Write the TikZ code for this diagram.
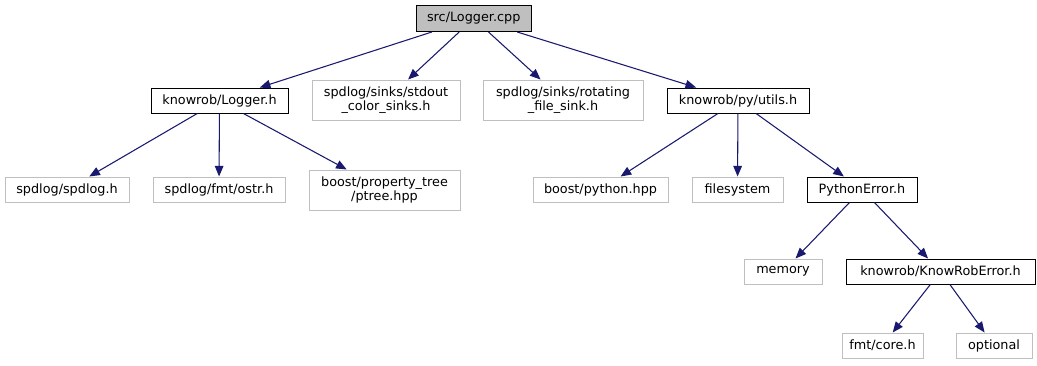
\documentclass[tikz,border=0pt]{standalone}
\usepackage{fontspec}
\setmainfont{DejaVu Sans}
\usetikzlibrary{arrows.meta}
\definecolor{edgeblue}{HTML}{191970}
\definecolor{undoc}{HTML}{BFBFBF}
\definecolor{rootfill}{HTML}{BFBFBF}
\tikzset{
  px/.style={x=0.75pt,y=-0.75pt},
  file/.style 2 args={draw, line width=0.75pt, inner sep=0pt, align=center,
    minimum width=#1*0.75pt, minimum height=#2*0.75pt,
    font=\fontsize{9.6}{10.5}\selectfont},
  docfile/.style 2 args={file={#1}{#2}, draw=black},
  extfile/.style 2 args={file={#1}{#2}, draw=undoc},
  rootfile/.style 2 args={file={#1}{#2}, draw=black, fill=rootfill},
  dep/.style={draw=edgeblue, line width=0.8pt,
    -{Triangle[length=8pt,width=6.5pt]}, edgeblue}
}
\begin{document}
\begin{tikzpicture}[px]
\useasboundingbox (0,0) rectangle (1037,365);
% level 0
\node[rootfile={115}{26}] (root) at (473.7,18.5) {src/Logger.cpp};
% level 1
\node[docfile={137}{25}] (logger) at (219.5,100.5) {knowrob/Logger.h};
\node[extfile={148}{40}] (stdout) at (386,100) {spdlog/sinks/stdout\\\_color\_sinks.h};
\node[extfile={160}{40}] (rotating) at (563,100) {spdlog/sinks/rotating\\\_file\_sink.h};
\node[docfile={142}{25}] (utils) at (738,100.5) {knowrob/py/utils.h};
% level 2
\node[extfile={124}{25}] (spdlog) at (67,189.5) {spdlog/spdlog.h};
\node[extfile={132}{25}] (ostr) at (219,189.5) {spdlog/fmt/ostr.h};
\node[extfile={151}{40}] (ptree) at (384.5,190) {boost/property\_tree\\/ptree.hpp};
\node[extfile={135}{25}] (python) at (600.5,189.5) {boost/python.hpp};
\node[extfile={91}{25}] (fs) at (737.5,189.5) {filesystem};
\node[docfile={110}{25}] (pyerr) at (862,189.5) {PythonError.h};
% level 3
\node[extfile={78}{25}] (memory) at (783,271.5) {memory};
\node[docfile={189}{25}] (kre) at (940.5,271.5) {knowrob/KnowRobError.h};
% level 4
\node[extfile={81}{25}] (fmtcore) at (882.5,345.5) {fmt/core.h};
\node[extfile={76}{25}] (optional) at (994,345.5) {optional};
% include edges
\draw[dep] (root) -- (logger);
\draw[dep] (root) -- (stdout);
\draw[dep] (root) -- (rotating);
\draw[dep] (root) -- (utils);
\draw[dep] (logger) -- (spdlog);
\draw[dep] (logger) -- (ostr);
\draw[dep] (logger) -- (ptree);
\draw[dep] (utils) -- (python);
\draw[dep] (utils) -- (fs);
\draw[dep] (utils) -- (pyerr);
\draw[dep] (pyerr) -- (memory);
\draw[dep] (pyerr) -- (kre);
\draw[dep] (kre) -- (fmtcore);
\draw[dep] (kre) -- (optional);
\end{tikzpicture}
\end{document}
